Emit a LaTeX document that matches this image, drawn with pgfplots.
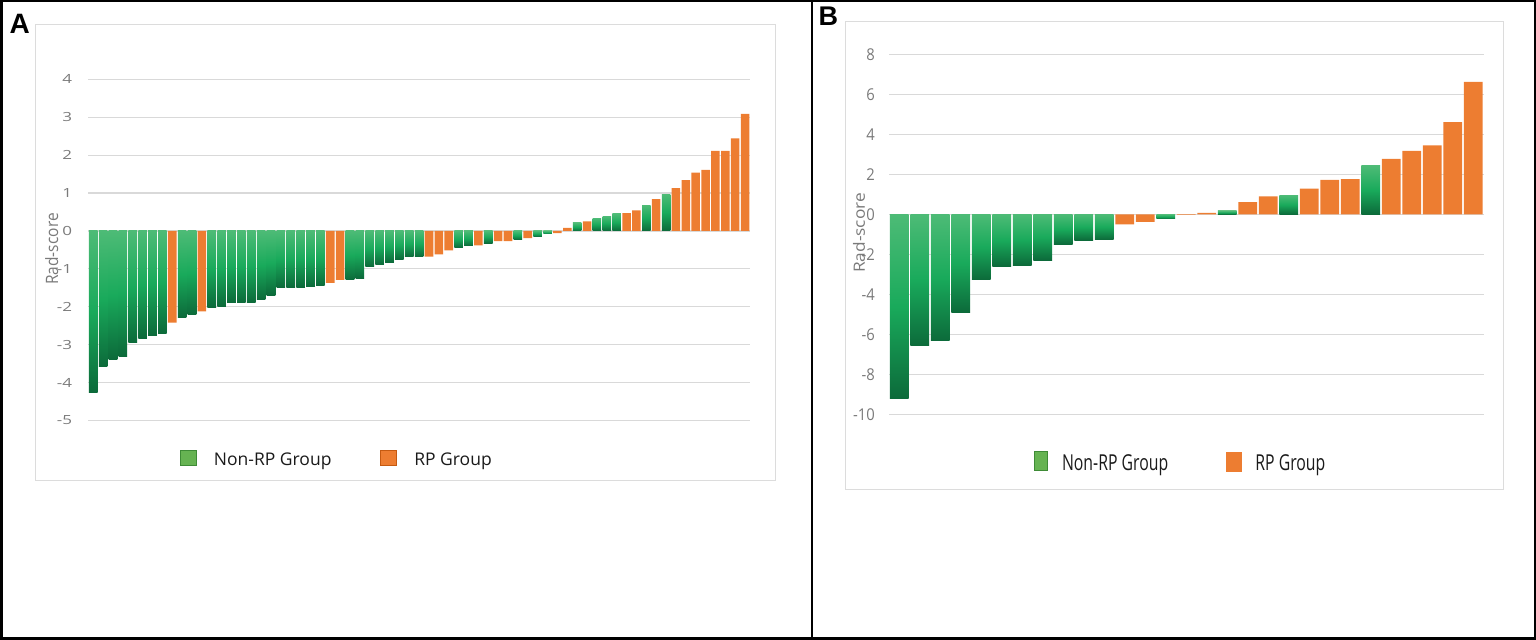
\documentclass[border=0pt]{standalone}
\usepackage{pgfplots}
\pgfplotsset{compat=1.18}
\usepackage{fontspec}
\setmainfont{Open Sans}
\newfontfamily\labfont{Liberation Sans}
\usepackage{graphicx}
\definecolor{gTop}{HTML}{4DBB76}
\definecolor{gMid}{HTML}{19AA5B}
\definecolor{gBot}{HTML}{0C6A3A}
\definecolor{orng}{HTML}{ED7D31}
\definecolor{orngD}{HTML}{C55A11}
\definecolor{legG}{HTML}{66B352}
\definecolor{legGd}{HTML}{3E8B36}
\definecolor{gridc}{HTML}{D9D9D9}
\definecolor{boxc}{HTML}{DCDCDC}
\definecolor{tickc}{HTML}{7A7A7A}
\definecolor{legtext}{HTML}{1A1A1A}

\newcommand{\tA}[1]{\scalebox{1.35}[1]{#1}}
\newcommand{\tB}[1]{\scalebox{1}[1.1]{#1}}
\newcommand{\lB}[1]{\scalebox{1}[1.39]{#1}}
% one green bar per plot, so that each bar gets its own gradient
\newcommand{\gb}[2]{\addplot[gbar] coordinates {(#1,#2)};}

\pgfplotsset{
  wf/.style={
    scale only axis,
    axis line style={draw=none},
    major tick length=0pt,
    xtick=\empty,
    ymajorgrids,
    grid style={draw=gridc, line width=1.2bp},
    yticklabel style={anchor=east, inner sep=0pt, text=tickc},
  },
  bw/.initial=0.92,
  gbar/.style={ybar, bar width=\pgfkeysvalueof{/pgfplots/bw}, bar shift=0pt, draw=none, top color=gTop, bottom color=gBot, middle color=gMid, forget plot},
  obar/.style={ybar, bar width=\pgfkeysvalueof{/pgfplots/bw}, bar shift=0pt, draw=none, fill=orng, forget plot},
}

\begin{document}
\begin{tikzpicture}[x=1bp,y=1bp]
\useasboundingbox (0,0) rectangle (1536,640);
% chart boxes
\draw[boxc, line width=1bp] (35,615) rectangle (775,159);
\draw[boxc, line width=1bp] (845,618) rectangle (1503,150);

% ---------------- Panel A ----------------
\begin{axis}[wf, bw=0.87, at={(88.3bp,219.5bp)}, anchor=south west,
  width=661.7bp, height=341.2bp,
  xmin=0.5, xmax=67.5, ymin=-5, ymax=4,
  ytick={-5,-4,-3,-2,-1,0,1,2,3,4},
  yticklabels={\tA{-5},\tA{-4},\tA{-3},\tA{-2},\tA{-1},\tA{0},\tA{1},\tA{2},\tA{3},\tA{4}},
  yticklabel style={font=\fontsize{12.6bp}{14bp}\selectfont, xshift=-16bp},
  legend columns=2,
  legend style={at={(0.139,-0.1103)}, anchor=west, draw=none, fill=none,
    inner sep=0pt, outer sep=0pt,
    cells={anchor=base west},
    nodes={inner sep=0pt, text depth=0pt, text=legtext, font=\fontsize{17.5bp}{20bp}\selectfont},
    /tikz/every odd column/.append style={column sep=17.5bp},
    /tikz/every even column/.append style={column sep=48.5bp}},
]
% Non-RP group (green)
\gb{1}{-4.26} \gb{2}{-3.58} \gb{3}{-3.39} \gb{4}{-3.30} \gb{5}{-2.95}
\gb{6}{-2.84} \gb{7}{-2.77} \gb{8}{-2.70} \gb{10}{-2.28} \gb{11}{-2.21}
\gb{13}{-2.01} \gb{14}{-2.00} \gb{15}{-1.89} \gb{16}{-1.89} \gb{17}{-1.89}
\gb{18}{-1.81} \gb{19}{-1.69} \gb{20}{-1.49} \gb{21}{-1.48} \gb{22}{-1.48}
\gb{23}{-1.47} \gb{24}{-1.45} \gb{27}{-1.29} \gb{28}{-1.25} \gb{29}{-0.94}
\gb{30}{-0.89} \gb{31}{-0.82} \gb{32}{-0.75} \gb{33}{-0.68} \gb{34}{-0.68}
\gb{38}{-0.44} \gb{39}{-0.39} \gb{41}{-0.32} \gb{44}{-0.23} \gb{46}{-0.15}
\gb{47}{-0.08} \gb{50}{0.21} \gb{52}{0.34} \gb{53}{0.39} \gb{54}{0.45}
\gb{57}{0.68} \gb{59}{0.97}
% RP group (orange)
\addplot[obar] coordinates {
(9,-2.42) (12,-2.12) (25,-1.37) (26,-1.29) (35,-0.68) (36,-0.62) (37,-0.51)
(40,-0.38) (42,-0.27) (43,-0.27) (45,-0.19) (48,-0.06) (49,0.08) (51,0.25)
(55,0.47) (56,0.54) (58,0.84) (60,1.13) (61,1.34) (62,1.54) (63,1.61)
(64,2.11) (65,2.11) (66,2.44) (67,3.09)
};
\addlegendimage{legend image code/.code={\draw[fill=legG,draw=legGd,line width=0.8bp] (0bp,0.7bp) rectangle (15.3bp,15.3bp);}}
\addlegendentry{Non-RP Group}
\addlegendimage{legend image code/.code={\draw[fill=orng,draw=orngD,line width=0.8bp] (0bp,0.7bp) rectangle (16bp,15.3bp);}}
\addlegendentry{RP Group}
\end{axis}

% ---------------- Panel B ----------------
\begin{axis}[wf, bw=0.92, at={(889bp,225.6bp)}, anchor=south west,
  width=594.5bp, height=360.1bp,
  xmin=0.5, xmax=29.5, ymin=-10, ymax=8,
  ytick={-10,-8,-6,-4,-2,0,2,4,6,8},
  yticklabels={\tB{-10},\tB{-8},\tB{-6},\tB{-4},\tB{-2},\tB{0},\tB{2},\tB{4},\tB{6},\tB{8}},
  yticklabel style={font=\fontsize{14.8bp}{16bp}\selectfont, xshift=-14bp},
  legend columns=2,
  legend style={at={(0.2439,-0.130)}, anchor=west, draw=none, fill=none,
    inner sep=0pt, outer sep=0pt,
    cells={anchor=base west},
    nodes={inner sep=0pt, text depth=0pt, text=legtext, font=\fontsize{15.8bp}{18bp}\selectfont},
    /tikz/every odd column/.append style={column sep=14.5bp},
    /tikz/every even column/.append style={column sep=58bp}},
]
% Non-RP group (green)
\gb{1}{-9.22} \gb{2}{-6.58} \gb{3}{-6.33} \gb{4}{-4.89} \gb{5}{-3.25}
\gb{6}{-2.59} \gb{7}{-2.54} \gb{8}{-2.29} \gb{9}{-1.49} \gb{10}{-1.29}
\gb{11}{-1.26} \gb{14}{-0.23} \gb{17}{0.17} \gb{20}{0.96} \gb{24}{2.42}
% RP group (orange)
\addplot[obar] coordinates {
(12,-0.50) (13,-0.38) (15,-0.03) (16,0.07) (18,0.61) (19,0.90) (21,1.28)
(22,1.72) (23,1.76) (25,2.77) (26,3.17) (27,3.45) (28,4.61) (29,6.62)
};
\addlegendimage{legend image code/.code={\draw[fill=legG,draw=legGd,line width=0.8bp] (0bp,0bp) rectangle (12.7bp,19bp);}}
\addlegendentry{\lB{Non-RP Group}}
\addlegendimage{legend image code/.code={\fill[orng] (0bp,0bp) rectangle (14.3bp,19bp);}}
\addlegendentry{\lB{RP Group}}
\end{axis}

% axis titles
\node[rotate=90, inner sep=0pt, text=tickc, font=\fontsize{15.5bp}{17bp}\selectfont] at (51.7,391) {\scalebox{1}[1.1]{Rad-score}};
\node[rotate=90, inner sep=0pt, text=tickc, font=\fontsize{17.3bp}{19bp}\selectfont] at (859,407) {\scalebox{1}[0.9]{Rad-score}};

% panel letters
\node[anchor=base west, inner sep=0pt, font=\labfont\bfseries\fontsize{28bp}{30bp}\selectfont] at (9.5,606.7) {A};
\node[anchor=base west, inner sep=0pt, font=\labfont\bfseries\fontsize{27bp}{29bp}\selectfont] at (818.5,614) {B};

% outer frame
\draw[black, line width=2.5bp] (1.25,1.25) rectangle (1534.75,638.75);
\draw[black, line width=2.5bp] (812,0) -- (812,640);
\end{tikzpicture}
\end{document}
